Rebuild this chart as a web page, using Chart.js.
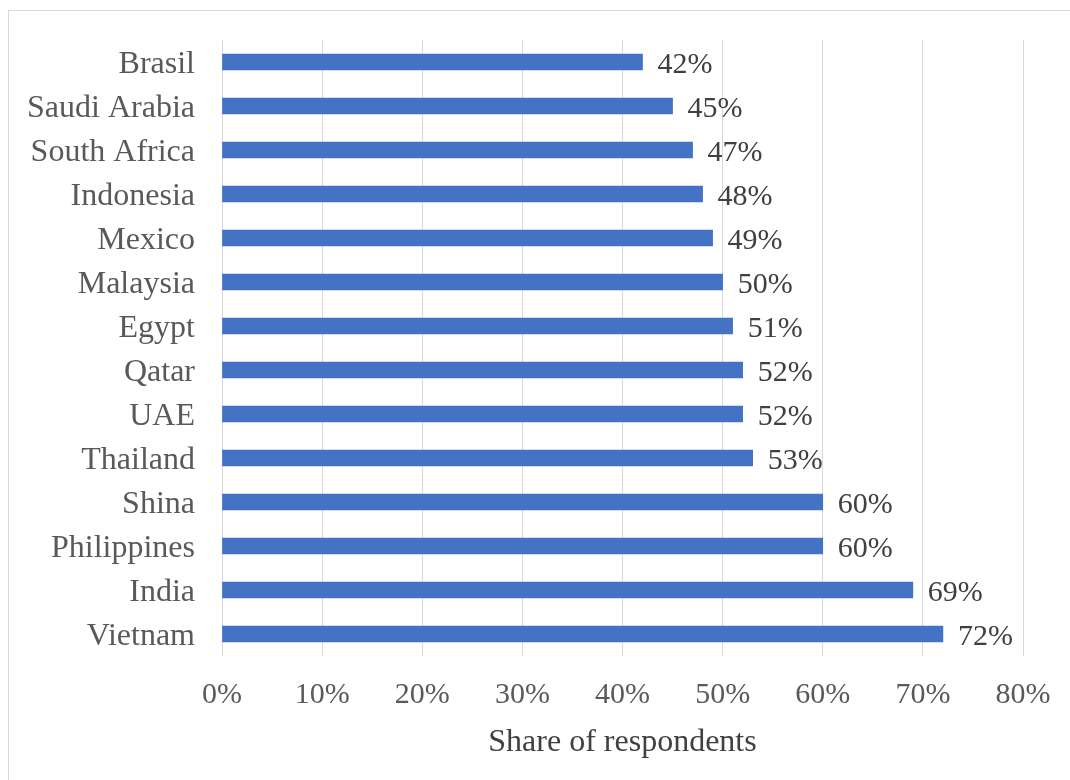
<!DOCTYPE html>
<html>
<head>
<meta charset="utf-8">
<script src="https://cdn.jsdelivr.net/npm/chart.js@4/dist/chart.umd.min.js"></script>
<style>
  html, body { margin: 0; padding: 0; background: #fff; }
  #wrap { position: relative; width: 1070px; height: 780px; overflow: hidden; }
  #frame { position: absolute; left: 8px; top: 10px; width: 1080px; height: 800px; border: 1px solid #d9d9d9; box-sizing: border-box; }
  canvas { position: absolute; left: 0; top: 0; }
</style>
</head>
<body>
<div id="wrap">
  <div id="frame"></div>
  <canvas id="c" width="1070" height="780"></canvas>
</div>
<script>
const categories = ['Brasil', 'Saudi Arabia', 'South Africa', 'Indonesia', 'Mexico', 'Malaysia', 'Egypt', 'Qatar', 'UAE', 'Thailand', 'Shina', 'Philippines', 'India', 'Vietnam'];
const shares = [42, 45, 47, 48, 49, 50, 51, 52, 52, 53, 60, 60, 69, 72];
const xTicks = [0, 10, 20, 30, 40, 50, 60, 70, 80];
const axisTitle = 'Share of respondents';

const FONT = "'Liberation Serif', 'Times New Roman', serif";

const dataLabels = {
  id: 'dataLabels',
  afterDatasetsDraw(chart) {
    const ctx = chart.ctx;
    const meta = chart.getDatasetMeta(0);
    ctx.save();
    ctx.font = '30px ' + FONT;
    ctx.fillStyle = '#404040';
    ctx.textAlign = 'left';
    ctx.textBaseline = 'middle';
    meta.data.forEach((bar, i) => {
      ctx.fillText(shares[i] + '%', bar.x + 15, bar.y + 3);
    });
    ctx.restore();
  }
};

new Chart(document.getElementById('c'), {
  type: 'bar',
  data: {
    labels: categories,
    datasets: [{
      data: shares,
      backgroundColor: '#4472C4',
      borderWidth: 0,
      barThickness: 16
    }]
  },
  options: {
    indexAxis: 'y',
    responsive: false,
    animation: false,
    devicePixelRatio: 1,
    layout: { padding: { top: 40, right: 47, bottom: 0, left: 0 } },
    plugins: { legend: { display: false }, tooltip: { enabled: false } },
    scales: {
      x: {
        min: 0, max: 80,
        afterBuildTicks(scale) { scale.ticks = xTicks.map(v => ({ value: v })); },
        afterFit(scale) { scale.height = 124; scale.paddingLeft = 0; scale.paddingRight = 0; },
        grid: { color: '#d9d9d9', lineWidth: 1, drawTicks: false },
        border: { display: false },
        ticks: {
          padding: 21,
          color: '#595959',
          font: { family: FONT, size: 30 },
          callback: v => v + '%',
          maxRotation: 0
        },
        title: {
          display: true,
          text: axisTitle,
          color: '#404040',
          font: { family: FONT, size: 32 },
          padding: { top: 0, bottom: 18 }
        }
      },
      y: {
        afterFit(scale) { scale.width = 222; scale.paddingTop = 0; scale.paddingBottom = 0; },
        grid: { display: false, drawTicks: false },
        border: { display: false },
        ticks: {
          padding: 27,
          labelOffset: 3,
          color: '#595959',
          font: { family: FONT, size: 32 }
        }
      }
    }
  },
  plugins: [dataLabels]
});
</script>
</body>
</html>
